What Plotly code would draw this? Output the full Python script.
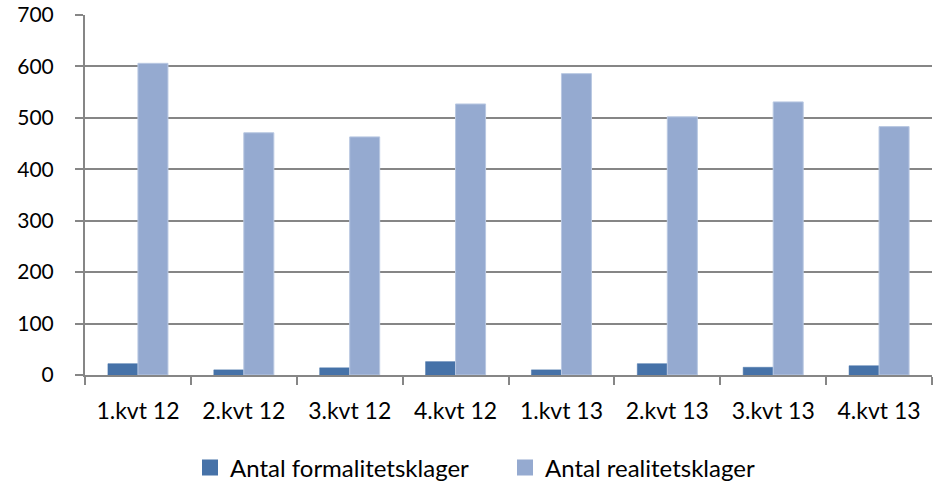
import plotly.graph_objects as go

categories = ["1.kvt 12", "2.kvt 12", "3.kvt 12", "4.kvt 12",
              "1.kvt 13", "2.kvt 13", "3.kvt 13", "4.kvt 13"]
formalitet = [22, 10, 14, 26, 10, 22, 15, 18]
realitet = [606, 471, 463, 527, 586, 502, 531, 483]
y_ticks = [0, 100, 200, 300, 400, 500, 600, 700]
series_names = ["Antal formalitetsklager", "Antal realitetsklager"]
series_colors = ["#4672A8", "#95AAD0"]

fig = go.Figure()
fig.add_trace(go.Bar(x=categories, y=formalitet, name=series_names[0], showlegend=False,
                     marker=dict(color=series_colors[0], line=dict(color=series_colors[0], width=0.5))))
fig.add_trace(go.Bar(x=categories, y=realitet, name=series_names[1], showlegend=False,
                     marker=dict(color=series_colors[1], line=dict(color="#B9C8E2", width=1))))
# legend entries with larger square swatches
for name, color in zip(series_names, series_colors):
    fig.add_trace(go.Scatter(x=[None], y=[None], mode="markers", name=name,
                             marker=dict(symbol="square", size=18, color=color)))

fig.update_layout(
    width=937, height=482,
    margin=dict(l=85, r=5, t=15, b=107),
    plot_bgcolor="white", paper_bgcolor="white",
    barmode="group", bargap=0.433, bargroupgap=0,
    font=dict(family="Lato, Open Sans, sans-serif", size=20, color="#000000"),
    showlegend=True,
    legend=dict(orientation="h", xref="container", yref="container",
                x=190 / 937, xanchor="left", y=1 - 468 / 482, yanchor="middle",
                font=dict(size=24), entrywidth=270, entrywidthmode="pixels",
                traceorder="normal", tracegroupgap=0),
    xaxis=dict(showline=True, linecolor="#868686", linewidth=2, ticks="outside",
               tickson="boundaries", ticklen=8, tickcolor="#868686", tickwidth=2,
               showgrid=False, zeroline=False, automargin=False,
               tickfont=dict(size=23), ticklabelstandoff=14),
    yaxis=dict(range=[0, 700], tickvals=y_ticks, showline=True, linecolor="#868686",
               linewidth=2, ticks="outside", ticklen=8, tickcolor="#868686", tickwidth=2,
               showgrid=True, gridcolor="#868686", gridwidth=1.5, zeroline=False,
               automargin=False, tickfont=dict(size=21), ticklabelstandoff=17),
)

fig.write_html("out.html", config={"displayModeBar": False},
               post_script="document.body.style.margin='0';")
